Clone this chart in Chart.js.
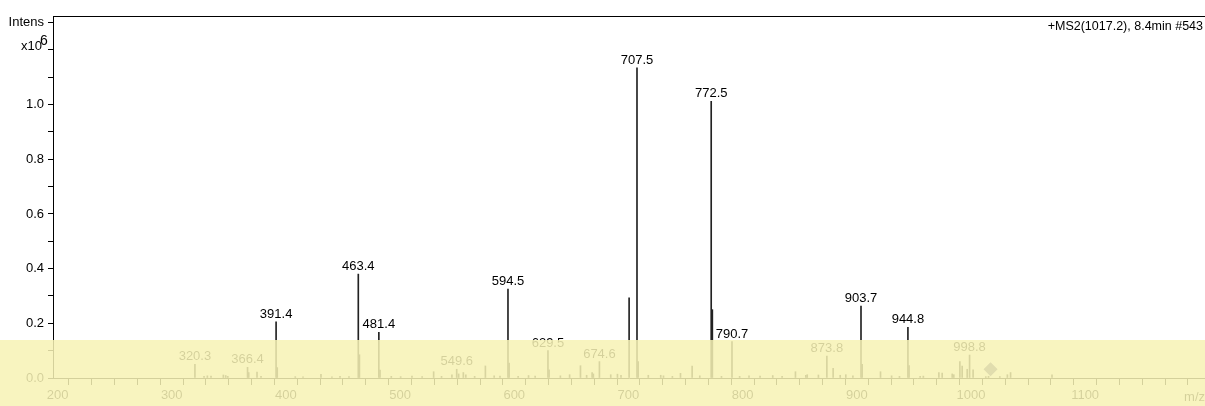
<!DOCTYPE html>
<html>
<head>
<meta charset="utf-8">
<script src="https://cdn.jsdelivr.net/npm/chart.js@4/dist/chart.umd.min.js"></script>
<style>
  html, body { margin: 0; padding: 0; background: #fff; }
  canvas { display: block; }
</style>
</head>
<body>
<canvas id="msChart" width="1205" height="406"></canvas>
<script>
// peak list, intensity in units of 10^6
const peakMz = [
  320.3, 328.3, 331.2, 334.4, 345.2, 347.3, 349.1, 366.4, 367.4, 374.7, 378.2,
  391.4, 392.4, 408.2, 415.0, 430.7, 440.3, 447.4, 455.2, 463.4, 464.4, 481.4, 482.4,
  492.3, 500.5, 510.4, 519.3, 529.4, 536.3, 545.4, 549.6, 551.3, 555.4, 557.6, 565.3,
  574.7, 582.4, 587.5, 594.5, 595.5, 603.4, 612.5, 618.3, 629.5, 630.5, 640.4, 648.5,
  658.0, 663.4, 668.2, 669.3, 674.6, 684.5, 690.4, 693.5, 700.6, 707.5, 708.5, 717.4,
  728.3, 730.7, 738.5, 745.6, 755.8, 762.5, 772.5, 773.5, 781.5, 790.7, 797.4, 805.6,
  815.3, 826.4, 834.6, 846.3, 855.4, 856.6, 866.4, 873.8, 879.3, 885.5, 890.4, 896.6,
  903.7, 904.7, 920.8, 930.5, 937.4, 944.8, 945.8, 955.5, 958.3, 971.9, 974.8, 983.6,
  985.0, 990.3, 992.3, 996.7, 998.8, 1001.9, 1013.0, 1015.4, 1025.3, 1031.9, 1034.7, 1071.0
];
const peakIntensity = [
  0.050, 0.006, 0.008, 0.007, 0.011, 0.009, 0.006, 0.039, 0.020, 0.022, 0.006,
  0.205, 0.038, 0.005, 0.004, 0.013, 0.004, 0.006, 0.005, 0.380, 0.085, 0.167, 0.029,
  0.006, 0.005, 0.007, 0.005, 0.023, 0.006, 0.012, 0.032, 0.015, 0.020, 0.012, 0.006,
  0.044, 0.008, 0.007, 0.325, 0.055, 0.006, 0.009, 0.007, 0.100, 0.030, 0.008, 0.012,
  0.045, 0.010, 0.020, 0.015, 0.060, 0.012, 0.014, 0.010, 0.293, 1.134, 0.060, 0.010,
  0.010, 0.008, 0.006, 0.017, 0.044, 0.008, 1.012, 0.250, 0.006, 0.133, 0.006, 0.008,
  0.007, 0.009, 0.006, 0.023, 0.010, 0.012, 0.011, 0.080, 0.035, 0.010, 0.012, 0.008,
  0.263, 0.050, 0.023, 0.008, 0.006, 0.185, 0.045, 0.006, 0.007, 0.020, 0.018, 0.015,
  0.012, 0.060, 0.044, 0.032, 0.084, 0.030, 0.005, 0.006, 0.005, 0.012, 0.020, 0.012
];
const labeledMz = [
  320.3, 366.4, 391.4, 463.4, 481.4, 549.6, 594.5, 629.5,
  674.6, 707.5, 772.5, 790.7, 873.8, 903.7, 944.8, 998.8
];
const precursorMz = [1017.2];
const precursorIntensity = [0.032];
const xLabelValues = [200, 300, 400, 500, 600, 700, 800, 900, 1000, 1100];
const yLabelValues = [0.0, 0.2, 0.4, 0.6, 0.8, 1.0];
const titleText = "+MS2(1017.2), 8.4min #543";

const FONT = "Liberation Sans, Arial, sans-serif";

const peakLabels = {
  id: "peakLabels",
  afterDatasetsDraw(chart) {
    const { ctx, scales: { x, y } } = chart;
    ctx.save();
    ctx.font = "13px " + FONT;
    ctx.fillStyle = "#000";
    ctx.textAlign = "center";
    ctx.textBaseline = "alphabetic";
    labeledMz.forEach((mz) => {
      const i = peakMz.indexOf(mz);
      ctx.fillText(mz.toFixed(1), x.getPixelForValue(mz), y.getPixelForValue(peakIntensity[i]) - 4);
    });
    ctx.restore();
  }
};

const decorations = {
  id: "decorations",
  afterDraw(chart) {
    const { ctx, chartArea, scales: { y } } = chart;
    ctx.save();
    // top frame line
    ctx.strokeStyle = "#000";
    ctx.lineWidth = 1;
    ctx.beginPath();
    ctx.moveTo(chartArea.left, chartArea.top + 0.5);
    ctx.lineTo(chart.width, chartArea.top + 0.5);
    ctx.stroke();
    // title
    ctx.fillStyle = "#000";
    ctx.font = "12.5px " + FONT;
    ctx.textAlign = "right";
    ctx.textBaseline = "middle";
    ctx.fillText(titleText, chart.width - 2, 27);
    // x10^6 at the 1.2 tick
    const y12 = y.getPixelForValue(1.2);
    ctx.font = "13px " + FONT;
    ctx.textBaseline = "bottom";
    ctx.fillText("x10", 42, y12 + 3);
    ctx.textAlign = "left";
    ctx.font = "14px " + FONT;
    ctx.fillText("6", 40, y12 - 2);
    // axis name
    ctx.font = "13px " + FONT;
    ctx.textAlign = "right";
    ctx.textBaseline = "middle";
    ctx.fillText("m/z", chart.width, 397);
    ctx.restore();
  }
};

// translucent yellow highlight over the bottom strip of the picture
const highlight = {
  id: "highlight",
  afterDraw(chart) {
    const { ctx } = chart;
    ctx.save();
    ctx.fillStyle = "rgba(247, 242, 180, 0.86)";
    ctx.fillRect(0, 340, chart.width, chart.height - 340);
    ctx.restore();
  }
};

new Chart(document.getElementById("msChart"), {
  type: "bar",
  data: {
    datasets: [
      {
        type: "scatter",
        data: precursorMz.map((mz, i) => ({ x: mz, y: precursorIntensity[i] })),
        pointStyle: "rectRot",
        radius: 7,
        backgroundColor: "#5a5a8a",
        borderWidth: 0
      },
      {
        data: peakMz.map((mz, i) => ({ x: mz, y: peakIntensity[i] })),
        backgroundColor: "#222",
        barThickness: 1,
        borderWidth: 0
      }
    ]
  },
  options: {
    responsive: false,
    animation: false,
    devicePixelRatio: 1,
    layout: { autoPadding: false, padding: { top: 16, left: 0, right: 0, bottom: 0 } },
    plugins: { legend: { display: false }, tooltip: { enabled: false } },
    scales: {
      x: {
        type: "linear",
        min: 196,
        max: 1205,
        offset: false,
        grid: { drawOnChartArea: false, drawTicks: true, tickLength: 7, color: "#000" },
        border: { color: "#000", width: 1 },
        ticks: {
          stepSize: 20,
          autoSkip: false,
          maxRotation: 0,
          includeBounds: false,
          padding: 3,
          color: "#000",
          font: { family: FONT, size: 13 },
          callback: (v) => (xLabelValues.includes(v) ? String(v) : "")
        },
        afterFit: (scale) => {
          scale.height = 28;
          scale.paddingLeft = 0;
          scale.paddingRight = 0;
        }
      },
      y: {
        min: 0,
        max: 1.324,
        grid: { drawOnChartArea: false, drawTicks: true, tickLength: 5, color: "#000" },
        border: { color: "#000", width: 1 },
        ticks: {
          stepSize: 0.1,
          autoSkip: false,
          includeBounds: false,
          padding: 4,
          color: "#000",
          font: { family: FONT, size: 13 },
          callback: (v) => {
            const r = Math.round(v * 10) / 10;
            if (r === 1.3) return "Intens";
            return yLabelValues.includes(r) ? r.toFixed(1) : "";
          }
        },
        afterFit: (scale) => {
          scale.width = 53;
          scale.paddingTop = 0;
          scale.paddingBottom = 0;
        }
      }
    }
  },
  plugins: [peakLabels, decorations, highlight]
});
</script>
</body>
</html>
